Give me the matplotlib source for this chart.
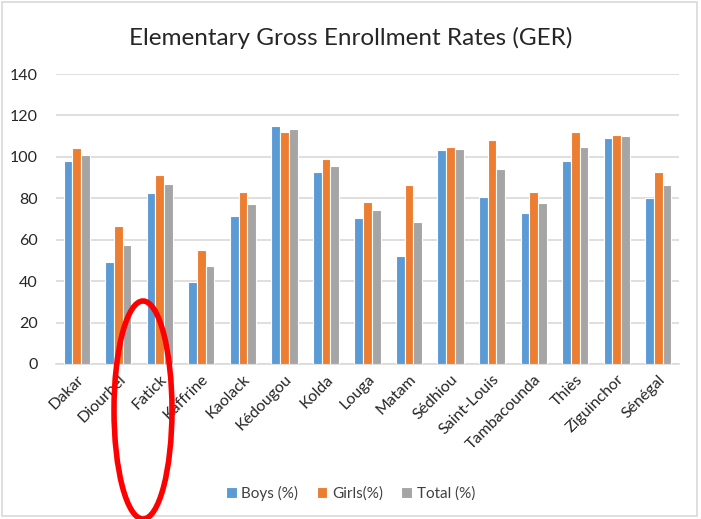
import numpy as np
import matplotlib
matplotlib.use("Agg")
import matplotlib.pyplot as plt
from matplotlib.patches import Ellipse, Rectangle

regions = ["Dakar", "Diourbel", "Fatick", "Kaffrine", "Kaolack", "Kédougou", "Kolda",
           "Louga", "Matam", "Sédhiou", "Saint-Louis", "Tambacounda", "Thiès",
           "Ziguinchor", "Sénégal"]
boys = [98.2, 49.4, 82.6, 39.6, 71.3, 115.1, 92.7, 70.3, 52.0, 103.5, 80.8, 73.1, 98.2, 109.3, 80.3]
girls = [104.4, 66.4, 91.4, 55.2, 83.2, 112.2, 99.0, 78.4, 86.4, 104.8, 108.3, 82.9, 112.2, 110.6, 92.7]
total = [101.1, 57.4, 86.9, 47.1, 77.1, 113.6, 95.8, 74.4, 68.6, 103.8, 94.2, 77.9, 104.8, 110.1, 86.4]

plt.rcParams["font.family"] = ["Lato", "DejaVu Sans"]

fig = plt.figure(figsize=(7.01, 5.19), dpi=100)
ax = fig.add_axes([0.0799, 0.2987, 0.8887, 0.5587])

x = np.arange(len(regions))
w = 0.21
series = [("Boys (%)", boys, "#5B9BD5"), ("Girls(%)", girls, "#ED7D31"), ("Total (%)", total, "#A5A5A5")]
for i, (label, vals, color) in enumerate(series):
    ax.bar(x + (i - 1) * w, vals, width=w, color=color, edgecolor="white", linewidth=0.8,
           label=label, zorder=3)

ax.set_xlim(-0.5, len(regions) - 0.5)
ax.set_ylim(0, 140)
ax.set_yticks(range(0, 141, 20))
ax.grid(axis="y", color="#D9D9D9", linewidth=1.2, zorder=0)
for s in ["top", "right", "left"]:
    ax.spines[s].set_visible(False)
ax.spines["bottom"].set_color("#D9D9D9")
ax.spines["bottom"].set_linewidth(1.2)
ax.tick_params(axis="both", length=0, labelsize=11.5, colors="#404040", labelcolor="#262626")
ax.tick_params(axis="y", pad=13)
ax.set_xticks(x)
ax.set_xticklabels(regions, rotation=45, ha="right", rotation_mode="anchor")
ax.tick_params(axis="x", pad=6)

fig.text(0.5, 0.927, "Elementary Gross Enrollment Rates (GER)", ha="center", va="center",
         fontsize=17.5, color="#262626")

fig.legend(loc="center", bbox_to_anchor=(0.5, 0.05), ncol=3, frameon=False, fontsize=11,
           handlelength=0.7, handleheight=0.7, handletextpad=0.3, columnspacing=1.2,
           labelcolor="#404040")

fig.patches.append(Rectangle((0.003, 0.006), 0.992, 0.99, transform=fig.transFigure,
                             fill=False, edgecolor="#D9D9D9", linewidth=1.2))

fig.patches.append(Ellipse((143 / 701, 1 - 410 / 519), 58 / 701, 218 / 519,
                           transform=fig.transFigure, fill=False, edgecolor="#FF0000",
                           linewidth=4, zorder=10))

fig.savefig("out.png", dpi=100)
